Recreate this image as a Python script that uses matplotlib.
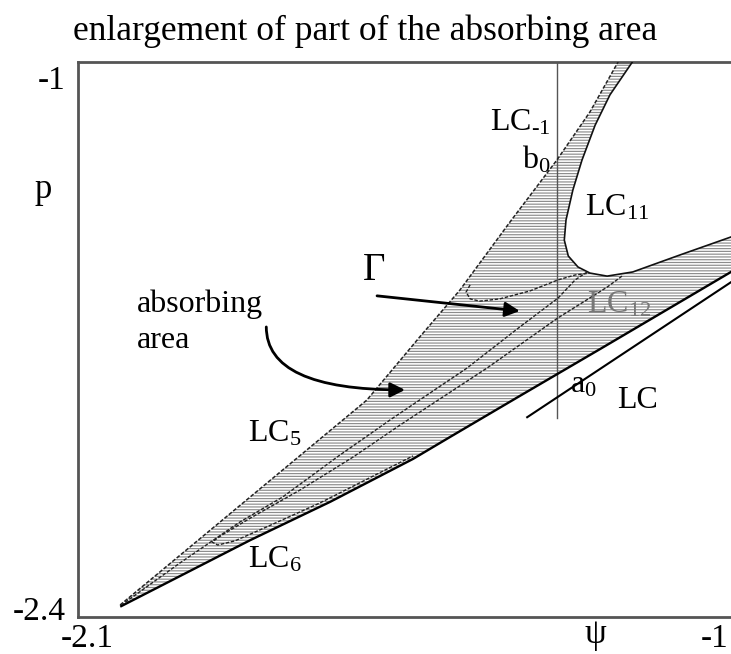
import matplotlib
matplotlib.use("Agg")
import matplotlib.pyplot as plt
from matplotlib.patches import Polygon

plt.rcParams['font.family'] = ['Liberation Serif', 'DejaVu Serif']
plt.rcParams['mathtext.fontset'] = 'custom'
plt.rcParams['mathtext.rm'] = 'Liberation Serif'
plt.rcParams['mathtext.it'] = 'Liberation Serif:italic'
plt.rcParams['hatch.linewidth'] = 0.85

# ---- curves in the (psi, p) plane ----
upper_edge_psi = [-2.042, -1.814, -1.610, -1.517, -1.447, -1.359, -1.277, -1.219, -1.170, -1.163]
upper_edge_p = [-2.392, -2.107, -1.852, -1.685, -1.562, -1.382, -1.219, -1.092, -0.961, -0.939]

lc11_psi = [-1.138, -1.145, -1.184, -1.210, -1.233, -1.249, -1.261, -1.264, -1.257, -1.240,
            -1.219, -1.189, -1.144, -1.061, -0.963]
lc11_p = [-0.939, -0.961, -1.047, -1.127, -1.219, -1.298, -1.377, -1.430, -1.472, -1.501,
          -1.517, -1.525, -1.514, -1.469, -1.417]

lower_edge_psi = [-2.040, -1.814, -1.674, -1.529, -1.464, -1.342, -1.201, -0.972, -0.956]
lower_edge_p = [-2.395, -2.221, -2.120, -2.007, -1.949, -1.841, -1.717, -1.514, -1.501]

lc_psi = [-1.329, -0.956]
lc_p = [-1.897, -1.525]

gamma_psi = [-1.429, -1.436, -1.429, -1.412, -1.377, -1.324, -1.275, -1.245, -1.219]
gamma_p = [-1.548, -1.567, -1.585, -1.591, -1.585, -1.564, -1.535, -1.522, -1.517]

lc12a_psi = [-1.224, -1.245, -1.275, -1.342, -1.434, -1.569, -1.662, -1.757, -1.832, -1.937, -2.037]
lc12a_p = [-1.514, -1.535, -1.583, -1.659, -1.767, -1.904, -2.002, -2.107, -2.173, -2.281, -2.389]

lc12b_psi = [-1.163, -1.189, -1.275, -1.399, -1.552, -1.634, -1.727, -1.814, -1.864, -1.881,
             -1.871, -1.841, -1.785, -1.692, -1.592, -1.529]
lc12b_p = [-1.525, -1.554, -1.635, -1.767, -1.918, -2.002, -2.089, -2.163, -2.208, -2.226,
           -2.234, -2.223, -2.186, -2.123, -2.047, -1.999]

psi_section = -1.277
section_p = [-1.899, -0.95]

x_ticks = [-2.1, -1.0]
x_tick_labels = ['-2.1', '-1']
y_ticks = [-2.4, -1.0]
y_tick_labels = ['-2.4', '-1']

fig = plt.figure(figsize=(7.31, 6.54), dpi=100)
ax = fig.add_axes([78 / 731, 1 - 617 / 654, 1 - 78 / 731, (617 - 62) / 654])
ax.set_xlim(-2.1158, -0.972)
ax.set_ylim(-2.4237, -0.9605)

# hatched absorbing area
region = list(zip(upper_edge_psi, upper_edge_p)) + list(zip(lc11_psi, lc11_p)) + \
    list(zip(lower_edge_psi[::-1], lower_edge_p[::-1]))
ax.add_patch(Polygon(region, closed=True, facecolor='white', edgecolor='#8c8c8c',
                     hatch='------', linewidth=0, zorder=1))

dash = (0, (2.5, 1.2))
ax.plot(upper_edge_psi, upper_edge_p, color='#222222', lw=1.1, ls=dash, zorder=3)
ax.plot(lc11_psi, lc11_p, color='#111111', lw=1.2, zorder=3)
ax.plot(lower_edge_psi, lower_edge_p, color='black', lw=1.7, zorder=3)
ax.plot(lc_psi, lc_p, color='black', lw=1.5, zorder=3)
ax.plot(gamma_psi, gamma_p, color='#222222', lw=1.0, ls=dash, zorder=3)
ax.plot(lc12a_psi, lc12a_p, color='#222222', lw=1.0, ls=dash, zorder=3)
ax.plot(lc12b_psi, lc12b_p, color='#222222', lw=1.0, ls=dash, zorder=3)
ax.plot([psi_section, psi_section], section_p, color='#555555', lw=1.0, zorder=2)

# labels of the curves
fs = 23
ax.text(-1.394, -1.140, r'$\mathrm{LC}_{\text{-1}}$', fontsize=fs, va='baseline')
ax.text(-1.338, -1.240, r'$\mathrm{b}_{0}$', fontsize=fs, va='baseline')
ax.text(-1.228, -1.364, r'$\mathrm{LC}_{11}$', fontsize=fs, va='baseline')
ax.text(-1.224, -1.620, r'$\mathrm{LC}_{12}$', fontsize=fs, va='baseline', color='#777777')
ax.text(-1.617, -1.535, 'Γ', fontsize=28, va='baseline')
ax.text(-2.012, -1.620, 'absorbing', fontsize=23, va='baseline')
ax.text(-2.012, -1.714, 'area', fontsize=23, va='baseline')
ax.text(-1.254, -1.833, r'$\mathrm{a}_{0}$', fontsize=fs, va='baseline')
ax.text(-1.172, -1.873, 'LC', fontsize=fs, va='baseline')
ax.text(-1.818, -1.962, r'$\mathrm{LC}_{5}$', fontsize=fs, va='baseline')
ax.text(-1.818, -2.292, r'$\mathrm{LC}_{6}$', fontsize=fs, va='baseline')

# arrows
ax.annotate('', xy=(-1.342, -1.617), xytext=(-1.592, -1.577),
            arrowprops=dict(arrowstyle='-|>', lw=2.0, color='black', mutation_scale=22,
                            shrinkA=0, shrinkB=0))
ax.annotate('', xy=(-1.543, -1.825), xytext=(-1.786, -1.659),
            arrowprops=dict(arrowstyle='-|>', lw=2.0, color='black', mutation_scale=22,
                            shrinkA=0, shrinkB=0,
                            connectionstyle='angle3,angleA=90,angleB=0'))

# axes frame and ticks
for side in ['top', 'left', 'bottom']:
    ax.spines[side].set_color('#555555')
    ax.spines[side].set_linewidth(2.0)
ax.spines['right'].set_visible(False)
ax.set_xticks(x_ticks)
ax.set_xticklabels(x_tick_labels)
ax.set_yticks(y_ticks)
ax.set_yticklabels(y_tick_labels)
ax.tick_params(axis='both', length=0, labelsize=24)
ax.tick_params(axis='x', pad=5)
ax.tick_params(axis='y', pad=9)

fig.text(43 / 731, 1 - 198 / 654, 'p', fontsize=25, ha='center', va='baseline')
fig.text(595 / 731, 1 - 643 / 654, 'ψ', fontsize=25, ha='center', va='baseline')
fig.text(365 / 731, 1 - 40 / 654, 'enlargement of part of the absorbing area',
         fontsize=25.5, ha='center', va='baseline')

fig.savefig('out.png', dpi=100)
